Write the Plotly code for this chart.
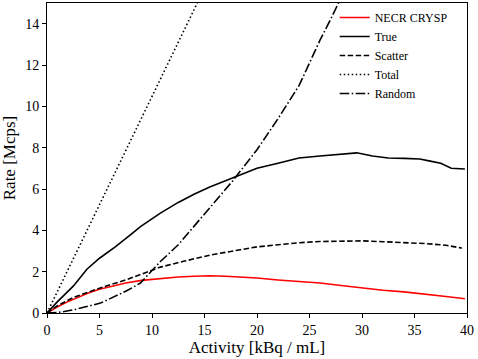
import plotly.graph_objects as go

# activity [kBq / mL] and rates [Mcps]
necr_x = [0, 1, 2, 3, 4, 5, 6, 7.5, 9, 10.8, 12.5, 14, 15.5, 17, 18.5, 20, 22, 24, 26, 28, 30, 32, 34, 36, 38, 39.8]
necr_y = [0, 0.3, 0.55, 0.78, 0.98, 1.15, 1.28, 1.45, 1.58, 1.67, 1.74, 1.78, 1.8, 1.78, 1.74, 1.69, 1.6, 1.53, 1.45, 1.33, 1.21, 1.1, 1.02, 0.92, 0.8, 0.69]

true_x = [0, 1, 2.5, 3.8, 5, 6.5, 8, 8.9, 10.8, 12.5, 14, 15.5, 17, 18.5, 20, 22, 24, 26, 28, 29.5, 31, 32.5, 34, 35.5, 36.5, 37.5, 38.5, 39.8]
true_y = [0, 0.55, 1.3, 2.12, 2.65, 3.2, 3.8, 4.18, 4.83, 5.35, 5.75, 6.1, 6.4, 6.7, 7.0, 7.25, 7.5, 7.6, 7.7, 7.75, 7.6, 7.5, 7.48, 7.45, 7.35, 7.25, 7.0, 6.97]

scatter_x = [0, 1, 2.5, 5, 7.5, 10.8, 13, 15.5, 18.4, 20, 22, 24, 26, 28, 30, 32, 34, 36, 38, 39.5]
scatter_y = [0, 0.35, 0.75, 1.2, 1.6, 2.22, 2.5, 2.8, 3.06, 3.2, 3.3, 3.4, 3.46, 3.48, 3.49, 3.45, 3.42, 3.36, 3.28, 3.14]

total_x = [0, 2.5, 5, 7.5, 10, 12.5, 15, 17.5]
total_y = [0, 2.62, 5.24, 7.86, 10.48, 13.1, 15.72, 18.34]

random_x = [0, 1, 2.5, 5.1, 7.5, 8.9, 9.8, 10.8, 12.5, 14, 15.5, 17.7, 20, 22, 24, 26, 27, 28, 29]
random_y = [0, 0.02, 0.15, 0.48, 1.05, 1.45, 1.95, 2.49, 3.3, 4.2, 5.1, 6.4, 7.9, 9.4, 11.0, 13.2, 14.2, 15.2, 16.3]

lw = 1.6
fig = go.Figure()
fig.add_trace(go.Scatter(x=necr_x, y=necr_y, mode="lines", name="NECR CRYSP",
                         line=dict(color="red", width=lw)))
fig.add_trace(go.Scatter(x=true_x, y=true_y, mode="lines", name="True",
                         line=dict(color="black", width=lw)))
fig.add_trace(go.Scatter(x=scatter_x, y=scatter_y, mode="lines", name="Scatter",
                         line=dict(color="black", width=lw, dash="5.5px,2.5px")))
fig.add_trace(go.Scatter(x=total_x, y=total_y, mode="lines", name="Total",
                         line=dict(color="black", width=lw, dash="1.5px,2.5px")))
fig.add_trace(go.Scatter(x=random_x, y=random_y, mode="lines", name="Random",
                         line=dict(color="black", width=lw, dash="9.5px,2.5px,1.5px,2.5px")))

axis_style = dict(showline=True, linecolor="black", linewidth=1, mirror=True,
                  ticks="outside", ticklen=4, tickcolor="black", showgrid=False,
                  zeroline=False, tickfont=dict(size=14))
fig.update_xaxes(range=[0, 40], dtick=5,
                 title=dict(text="Activity [kBq / mL]", font=dict(size=17), standoff=1),
                 **axis_style)
fig.update_yaxes(range=[0, 15], tickvals=[0, 2, 4, 6, 8, 10, 12, 14], automargin=False,
                 title=dict(text="Rate [Mcps]", font=dict(size=17)), **axis_style)
fig.update_layout(
    width=478, height=359,
    margin=dict(l=47, r=11, t=3, b=46),
    plot_bgcolor="white", paper_bgcolor="white",
    font=dict(family="Liberation Serif", color="black"),
    legend=dict(x=0.685, y=1.0, xanchor="left", yanchor="top", bgcolor="rgba(0,0,0,0)",
                font=dict(size=12), tracegroupgap=0),
)
# drop the default page margin so the figure sits at the window's corner
fig.write_html("out.html", config={"displayModeBar": False},
               post_script="document.body.style.margin='0';")
